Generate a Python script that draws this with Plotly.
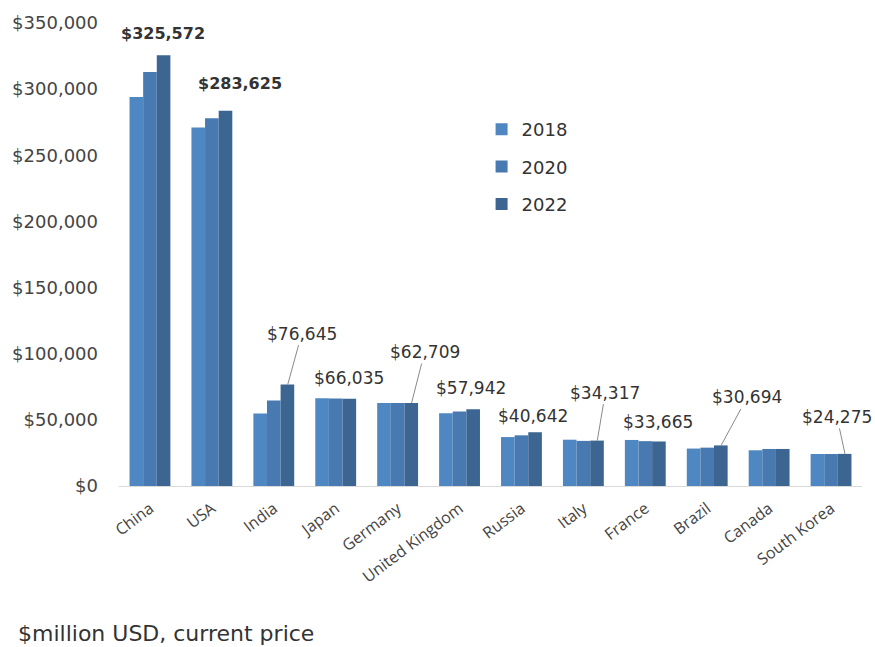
import plotly.graph_objects as go

countries = ["China", "USA", "India", "Japan", "Germany", "United Kingdom",
             "Russia", "Italy", "France", "Brazil", "Canada", "South Korea"]
years = ["2018", "2020", "2022"]
v2018 = [294000, 271000, 54800, 66300, 62700, 55000, 37000, 35000, 34800, 28300, 27000, 24200]
v2020 = [313000, 278000, 64600, 66200, 62700, 56300, 38300, 34100, 33900, 29000, 28000, 24200]
v2022 = [325572, 283625, 76645, 66035, 62709, 57942, 40642, 34317, 33665, 30694, 28000, 24275]
colors = ["#4f87c2", "#4879b0", "#3c6592"]

# label text offsets (px) from the top of each 2022 bar, leader line flag, bold flag
label_offsets = {
    "China": (-1, -22, False, True),
    "USA": (14, -27, False, True),
    "India": (14, -51, True, False),
    "Japan": (-1, -21, False, False),
    "Germany": (13, -51, True, False),
    "United Kingdom": (-2, -21, False, False),
    "Russia": (-2, -16, False, False),
    "Italy": (8, -48, True, False),
    "France": (-1, -19, False, False),
    "Brazil": (26, -48, True, False),
    "South Korea": (-8, -37, True, False),
}

fig = go.Figure()
for name, vals, col in zip(years, [v2018, v2020, v2022], colors):
    fig.add_trace(go.Bar(
        name=name, x=list(range(len(countries))), y=vals,
        marker=dict(color=col, line=dict(width=0)),
        legendgroup=name,
    ))

bar_shift = 0.225  # 2022 bar centre relative to category centre
for i, c in enumerate(countries):
    if c not in label_offsets:
        continue
    dx, dy, arrow, bold = label_offsets[c]
    txt = "${:,}".format(v2022[i])
    size = 17
    if bold:
        txt = "<b>" + txt + "</b>"
        size = 16
    common = dict(x=i + bar_shift, y=v2022[i], xref="x", yref="y", text=txt,
                  font=dict(family="DejaVu Sans", size=size, color="#333333"))
    if arrow:
        fig.add_annotation(**common, showarrow=True, arrowhead=0, arrowwidth=1,
                           arrowcolor="#8a8a8a", ax=dx, ay=dy, standoff=0)
    else:
        fig.add_annotation(**common, showarrow=False, xshift=dx, yshift=-dy)

fig.add_annotation(x=0.0, y=0.0, xref="paper", yref="paper", xanchor="left", yanchor="middle",
                   text="$million USD, current price", showarrow=False,
                   font=dict(family="DejaVu Sans", size=22, color="#333333"),
                   xshift=-103, yshift=-147)

fig.update_layout(
    width=875, height=647,
    margin=dict(l=119, r=13, t=20, b=161),
    paper_bgcolor="white", plot_bgcolor="white",
    barmode="group", bargap=0.34, bargroupgap=0,
    showlegend=True,
    legend=dict(x=0.488, y=0.81, xanchor="left", yanchor="top",
                font=dict(family="DejaVu Sans", size=18, color="#333333"),
                tracegroupgap=11, bgcolor="rgba(0,0,0,0)", itemwidth=30),
    xaxis=dict(tickmode="array", tickvals=list(range(len(countries))), ticktext=countries,
               range=[-0.5, len(countries) - 0.5], tickangle=-37,
               showline=True, linecolor="#d9d9d9", linewidth=1, showgrid=False,
               ticks="", ticklabelstandoff=6,
               tickfont=dict(family="Open Sans", size=16, color="#444444")),
    yaxis=dict(range=[0, 350000], tickvals=[0, 50000, 100000, 150000, 200000, 250000, 300000, 350000],
               ticktext=["$0", "$50,000", "$100,000", "$150,000", "$200,000", "$250,000", "$300,000", "$350,000"],
               showgrid=False, zeroline=False, showline=False, ticks="",
               ticklabelstandoff=20,
               tickfont=dict(family="DejaVu Sans", size=18, color="#444444")),
)

fig.write_html("out.html")
